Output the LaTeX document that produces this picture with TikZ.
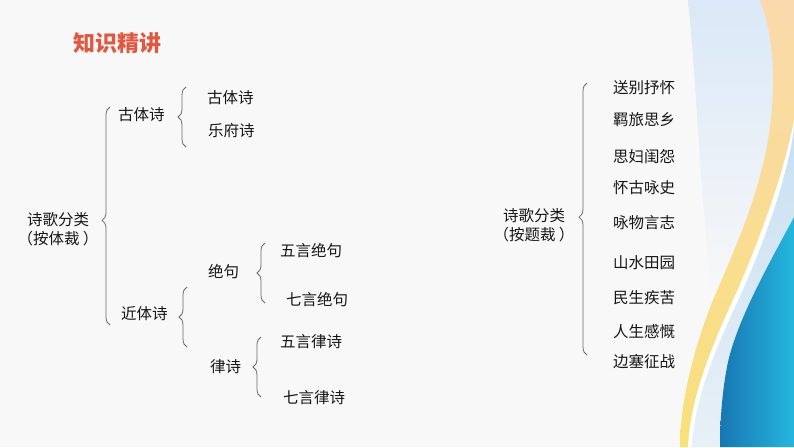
\documentclass[tikz,border=0pt]{standalone}
\usepackage{fontspec}
\setmainfont{Noto Sans CJK SC}
\usetikzlibrary{decorations.pathreplacing}
\definecolor{bgc}{RGB}{248,248,248}
\definecolor{txt}{RGB}{22,22,22}
\definecolor{titlec}{RGB}{226,88,62}
\definecolor{bracec}{RGB}{105,105,105}
\definecolor{paleblue}{RGB}{218,232,247}
\definecolor{peach}{RGB}{250,218,172}
\definecolor{yel}{RGB}{248,224,122}
\definecolor{lblue}{RGB}{200,224,242}
\definecolor{lblue2}{RGB}{232,240,247}
\definecolor{dblue}{RGB}{24,118,178}
\definecolor{cblue}{RGB}{36,182,222}
\begin{document}
\begin{tikzpicture}[x=1pt,y=-1pt,
  lbl/.style={anchor=west, inner sep=0pt, text=txt, font=\fontsize{15.5}{19}\selectfont},
  rootlbl/.style={anchor=center, inner sep=0pt, text=txt, align=center, font=\fontsize{15.5}{19.5}\selectfont},
  titlelbl/.style={anchor=west, inner sep=0pt, text=titlec, font=\fontsize{22}{26}\selectfont\bfseries},
  bracebig/.style={draw=bracec, line width=0.8pt, decorate, decoration={brace, amplitude=8pt, aspect=#1}},
  bracebig/.default=0.5]
% background
\fill[bgc] (0,0) rectangle (794,447);
\useasboundingbox (0,0) rectangle (794,447);
% pale blue swoosh
\shade[top color=paleblue, middle color=paleblue!55!bgc, bottom color=bgc]
  (688,0) .. controls (698,100) and (700,200) .. (713,300) -- (794,300) -- (794,0) -- cycle;
% yellow band
\shade[top color=peach, bottom color=yel]
  (760,0) .. controls (772,30) and (778,80) .. (768,140) .. controls (758,200) and (730,260) .. (713,300)
  .. controls (695,345) and (680,400) .. (680,447) -- (794,447) -- (794,0) -- cycle;
% white stripe
\fill[white]
  (794,120) .. controls (785,170) and (760,240) .. (733,300) .. controls (710,350) and (690,400) .. (688,447)
  -- (794,447) -- cycle;
% light blue band
\shade[top color=lblue, bottom color=lblue2]
  (794,128) .. controls (788,176) and (764,244) .. (737,303) .. controls (714,352) and (694,402) .. (692,447)
  -- (794,447) -- cycle;
% dark blue region
\shade[left color=dblue, right color=cblue]
  (794,217) .. controls (770,262) and (738,318) .. (728,362) .. controls (721,395) and (720,430) .. (720,447)
  -- (794,447) -- cycle;

% title
\node[titlelbl] (title) at (73,43) {知识精讲};

% left tree
\node[rootlbl] (root1) at (58,229) {诗歌分类\\（按体裁 ）};
\node[lbl] (gu) at (118,115) {古体诗};
\node[lbl] (jin) at (121,314) {近体诗};
\node[lbl] (gu1) at (207,98) {古体诗};
\node[lbl] (gu2) at (208,131) {乐府诗};
\node[lbl] (jue) at (208,272) {绝句};
\node[lbl] (lv) at (210,367) {律诗};
\node[lbl] (jue1) at (280,251) {五言绝句};
\node[lbl] (jue2) at (286,300) {七言绝句};
\node[lbl] (lv1) at (280,342) {五言律诗};
\node[lbl] (lv2) at (283,398) {七言律诗};

\coordinate (b1b) at (110,325); \coordinate (b1t) at (110,107);
\coordinate (b2b) at (186,147); \coordinate (b2t) at (186,87);
\coordinate (b3b) at (187,347); \coordinate (b3t) at (187,287);
\coordinate (b4b) at (265,303); \coordinate (b4t) at (265,243);
\coordinate (b5b) at (261,397); \coordinate (b5t) at (261,337);
\draw[bracebig=0.48] (b1b) -- (b1t);
\draw[bracebig] (b2b) -- (b2t);
\draw[bracebig] (b3b) -- (b3t);
\draw[bracebig] (b4b) -- (b4t);
\draw[bracebig] (b5b) -- (b5t);

% right tree
\node[rootlbl] (root2) at (534,225) {诗歌分类\\（按题裁 ）};
\node[lbl] (t1) at (613,88) {送别抒怀};
\node[lbl] (t2) at (613,120) {羁旅思乡};
\node[lbl] (t3) at (613,157) {思妇闺怨};
\node[lbl] (t4) at (613,188) {怀古咏史};
\node[lbl] (t5) at (613,223) {咏物言志};
\node[lbl] (t6) at (613,263) {山水田园};
\node[lbl] (t7) at (613,298) {民生疾苦};
\node[lbl] (t8) at (613,332) {人生感慨};
\node[lbl] (t9) at (613,362) {边塞征战};
\coordinate (b6b) at (587,355); \coordinate (b6t) at (587,83);
\draw[bracebig=0.507] (b6b) -- (b6t);
\end{tikzpicture}
\end{document}
